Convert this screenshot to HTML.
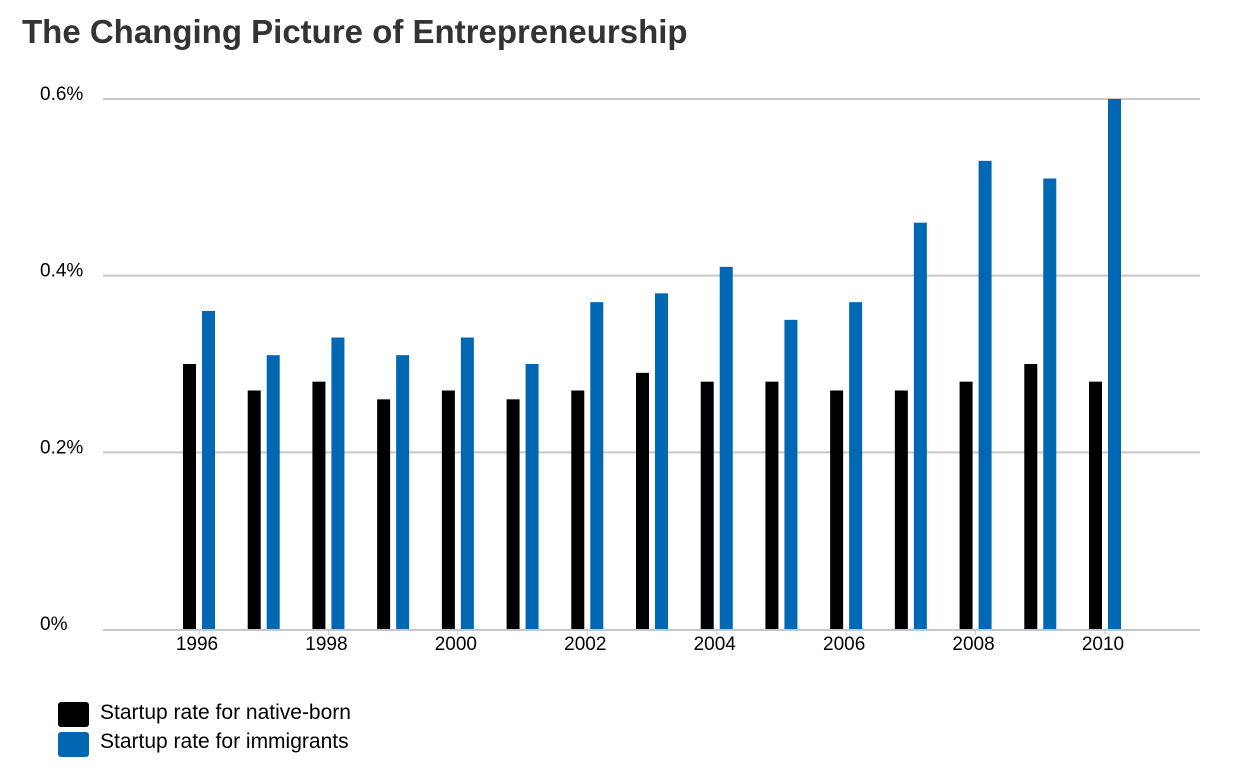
<!DOCTYPE html>
<html><head><meta charset="utf-8"><style>
body{margin:0;background:#fff;font-family:"Liberation Sans",Arial,sans-serif;}
#wrap{position:relative;width:1236px;height:769px;overflow:hidden;}
</style></head><body>
<div id="wrap">
<svg id="chart" width="1236" height="769">
<text x="22" y="43" font-size="33" font-weight="bold" fill="#333" font-family="Liberation Sans, Arial, sans-serif">The Changing Picture of Entrepreneurship</text>
<g id="grid"></g><g id="bars"></g><g id="axes"></g>
<g>
<rect x="58" y="702" width="31" height="25" rx="3" fill="#000"/>
<text x="100" y="719" font-size="21" fill="#000">Startup rate for native-born</text>
<rect x="58" y="732" width="31" height="25" rx="3" fill="#0067b3"/>
<text x="100" y="748" font-size="21" fill="#000">Startup rate for immigrants</text>
</g>
</svg>
</div>
<script>
const years=[1996,1997,1998,1999,2000,2001,2002,2003,2004,2005,2006,2007,2008,2009,2010];
const nativeVals=[0.30,0.27,0.28,0.26,0.27,0.26,0.27,0.29,0.28,0.28,0.27,0.27,0.28,0.30,0.28];
const immigrantVals=[0.36,0.31,0.33,0.31,0.33,0.30,0.37,0.38,0.41,0.35,0.37,0.46,0.53,0.51,0.60];
const yTicks=[0,0.2,0.4,0.6];
const yTickLabels=["0%","0.2%","0.4%","0.6%"];
const NS="http://www.w3.org/2000/svg";
const y0=629,yTop=99,vMax=0.6;
function yScale(v){return y0-(v/vMax)*(y0-yTop);}
const xStart=199,xStep=(1105-199)/14;
function xScale(i){return xStart+i*xStep;}
function mk(tag,attrs,parent){const e=document.createElementNS(NS,tag);for(const k in attrs)e.setAttribute(k,attrs[k]);parent.appendChild(e);return e;}
const grid=document.getElementById('grid'),bars=document.getElementById('bars'),axes=document.getElementById('axes');
yTicks.forEach((t,i)=>{
  if(t>0){const l=mk('line',{x1:103,x2:1200,y1:yScale(t),y2:yScale(t),stroke:'#c8c8c8','stroke-width':2},grid);
  
  }
  const tx=mk('text',{x:40,y:yScale(t)+1,'font-size':19,fill:'#000'},axes);
  tx.textContent=yTickLabels[i];
  
  
});
const ax=mk('line',{x1:103,x2:1200,y1:y0+1,y2:y0+1,stroke:'#c0c8d4','stroke-width':2},axes);


years.forEach((yr,i)=>{
  const cx=xScale(i);
  const b1=mk('rect',{x:cx-16,y:yScale(nativeVals[i]),width:13,height:y0-yScale(nativeVals[i]),fill:'#000'},bars);
  
  
  const b2=mk('rect',{x:cx+3,y:yScale(immigrantVals[i]),width:13,height:y0-yScale(immigrantVals[i]),fill:'#0067b3'},bars);
  
  
  if(i%2===0){
    const tk=mk('line',{x1:cx,x2:cx,y1:y0+2,y2:y0+6,stroke:'#c0c8d4','stroke-width':1},axes);
    
    
    const t=mk('text',{x:cx-2,y:650,'font-size':19,fill:'#000','text-anchor':'middle'},axes);
    t.textContent=yr;
    
    
  }
});
</script>
</body></html>
